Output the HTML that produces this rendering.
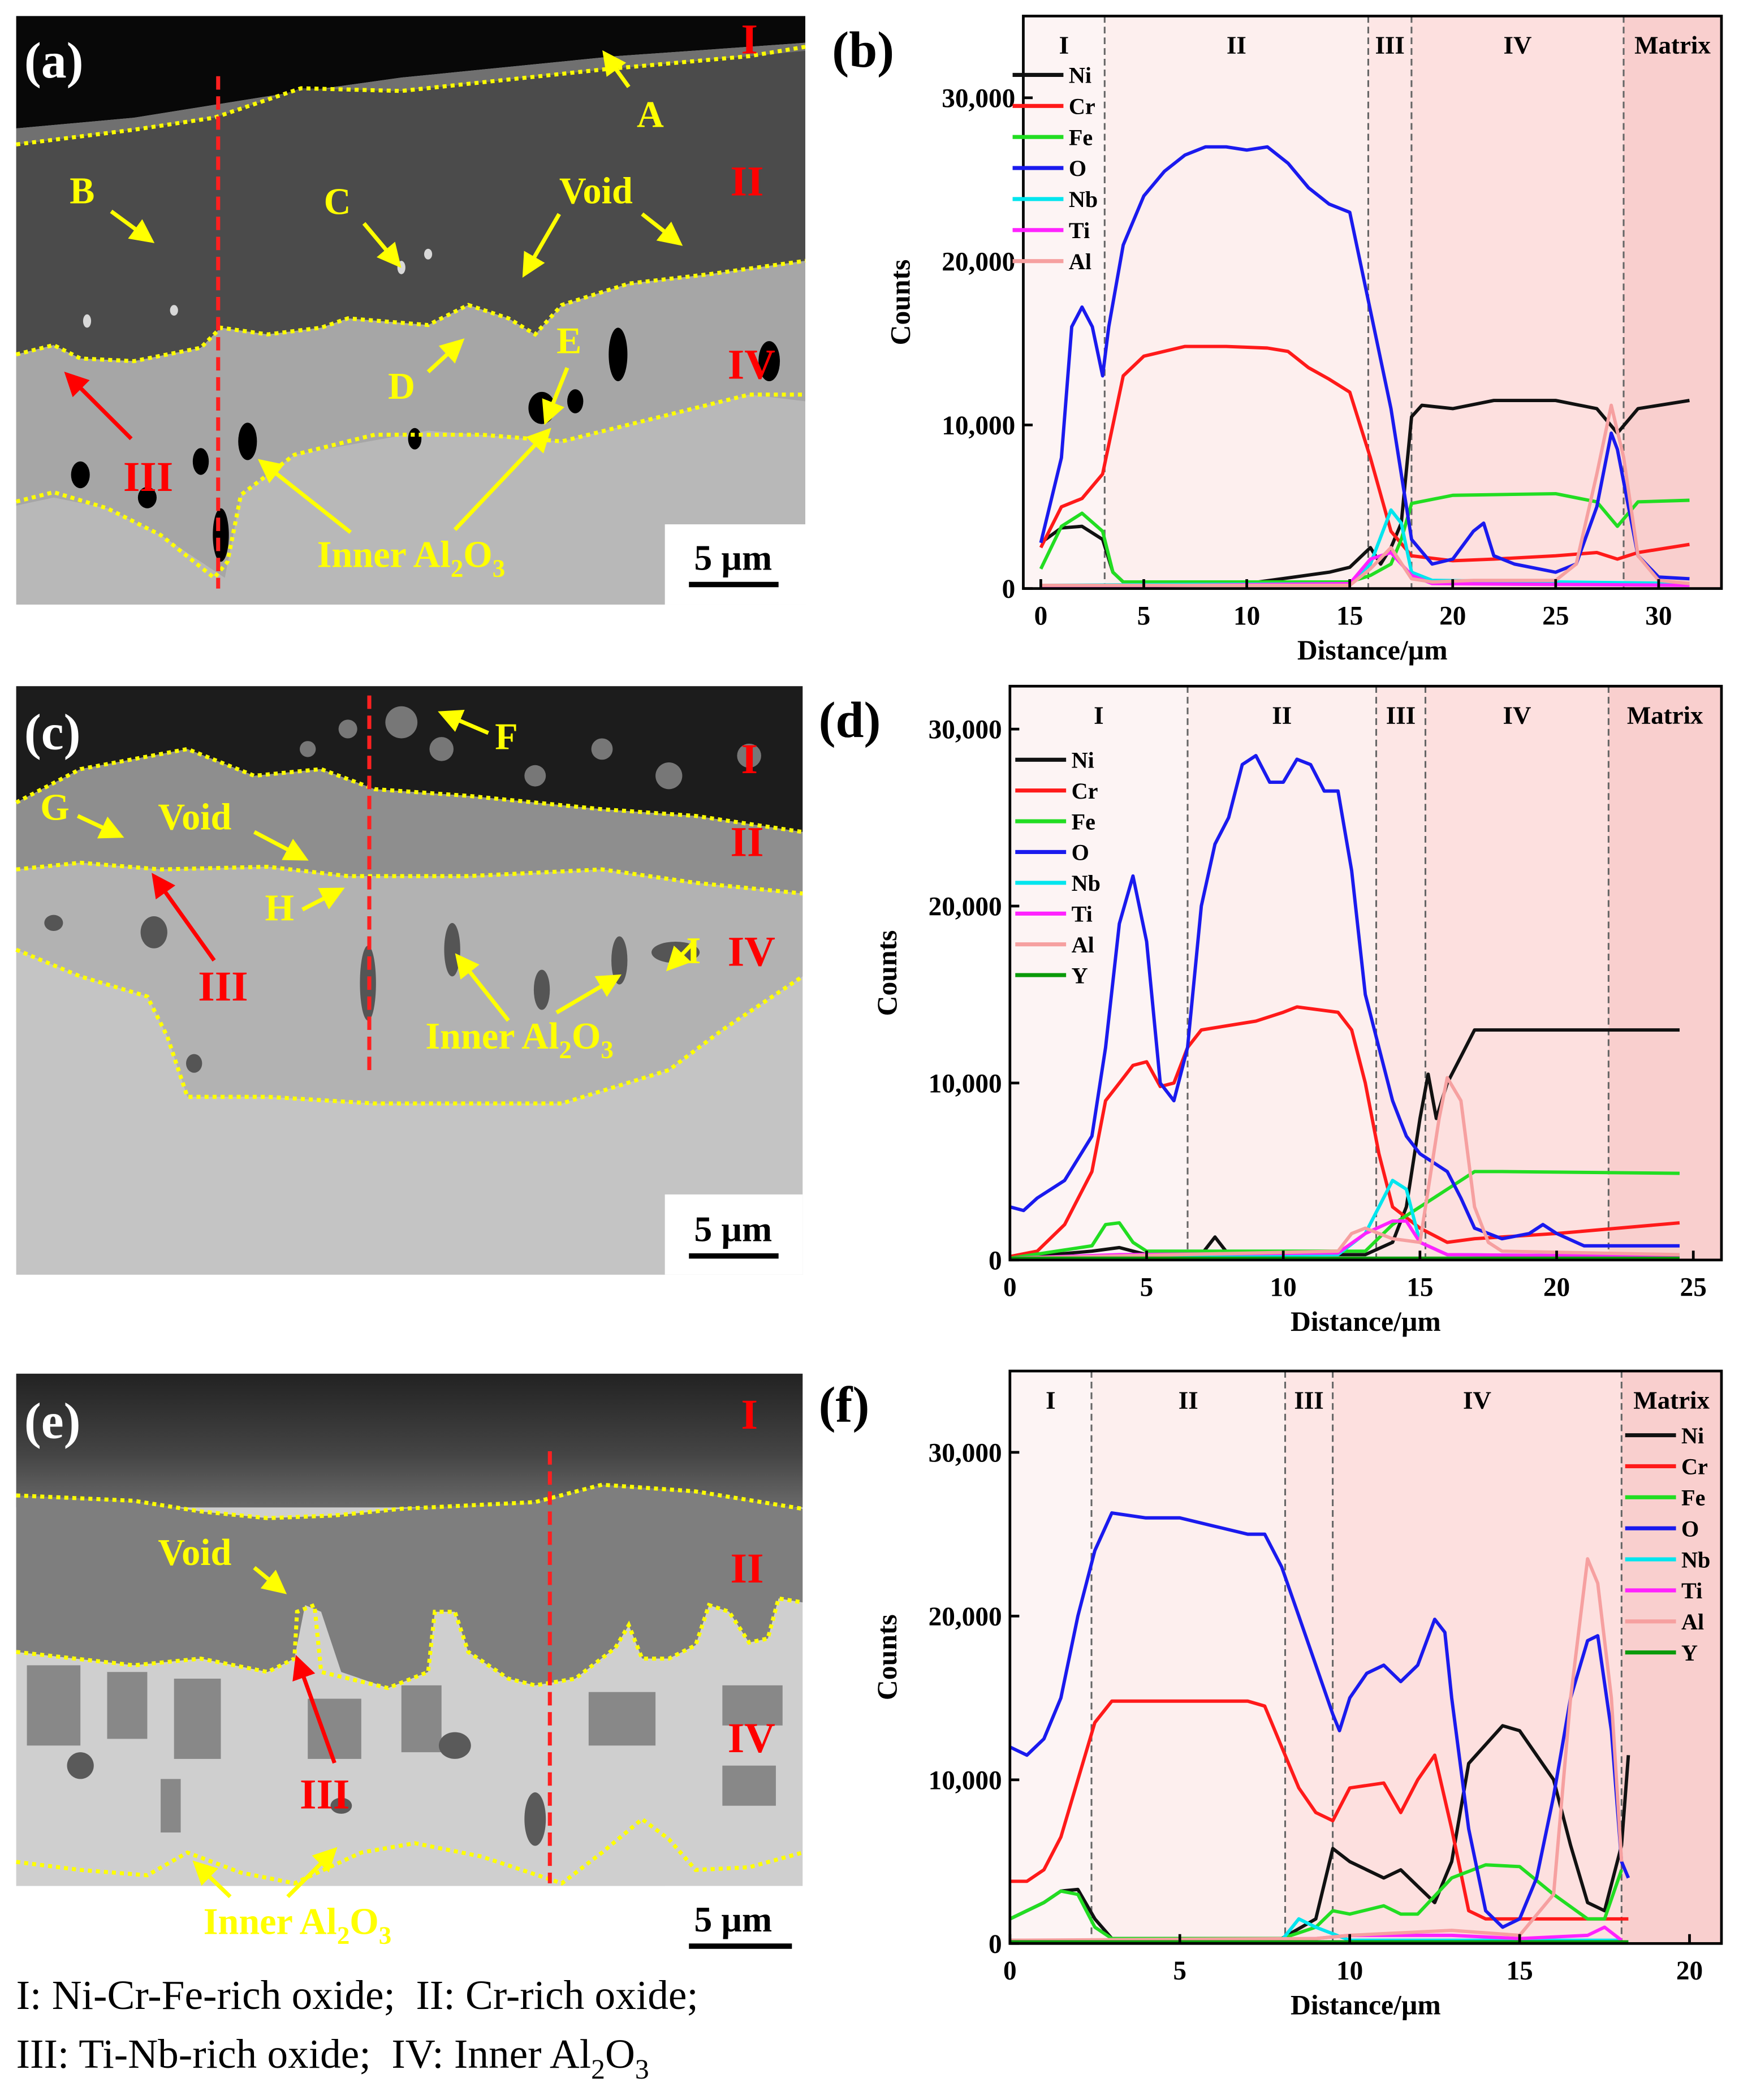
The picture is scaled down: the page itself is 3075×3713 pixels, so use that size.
<!DOCTYPE html>
<html><head><meta charset="utf-8"><style>
html,body{margin:0;padding:0;background:#fff}
svg{display:block}
text{font-family:"Liberation Serif",serif}
</style></head><body>
<svg id="fig" xmlns="http://www.w3.org/2000/svg" width="3075" height="3713" viewBox="0 0 1300 1570">
<defs>
<linearGradient id="gE" x1="0" y1="0" x2="0" y2="1"><stop offset="0" stop-color="#222"/><stop offset="0.6" stop-color="#444"/><stop offset="1" stop-color="#6a6a6a"/></linearGradient>
<marker id="ay" markerWidth="6" markerHeight="6" refX="5" refY="3" orient="auto" markerUnits="strokeWidth"><path d="M0,0 L6,3 L0,6 z" fill="#ffff00"/></marker>
<marker id="ar" markerWidth="6" markerHeight="6" refX="5" refY="3" orient="auto" markerUnits="strokeWidth"><path d="M0,0 L6,3 L0,6 z" fill="#ff0000"/></marker>
</defs>

<!-- Panel a SEM -->
<g>
<rect x="12" y="12" width="590" height="440" fill="#b8b8b8"/>
<polygon points="12,265 40,258 60,268 100,270 150,260 165,245 200,250 240,245 260,238 320,243 350,228 380,238 400,250 420,228 470,212 530,205 602,195 602,300 560,295 500,310 420,330 320,322 220,340 180,370 168,432 120,400 80,380 40,372 12,378" fill="#a6a6a6"/>
<polygon points="12,12 602,12 602,32 460,42 300,58 200,72 100,88 12,96" fill="#080808"/>
<polygon points="12,96 100,88 200,72 300,58 460,42 602,32 602,40 560,42 450,52 300,68 225,66 160,88 100,97 12,108" fill="#707070"/>
<polygon points="12,108 100,97 160,88 225,66 300,68 450,52 560,42 602,38 602,195 530,205 470,212 420,228 400,250 380,238 350,228 320,243 260,238 240,245 200,250 165,245 150,260 100,270 60,268 40,258 12,265" fill="#4b4b4b"/>
<g fill="#000">
<ellipse cx="462" cy="265" rx="7" ry="20"/><ellipse cx="405" cy="305" rx="10" ry="12"/><ellipse cx="185" cy="330" rx="7" ry="14"/><ellipse cx="165" cy="400" rx="6" ry="20"/><ellipse cx="60" cy="355" rx="7" ry="10"/><ellipse cx="110" cy="372" rx="7" ry="8"/><ellipse cx="575" cy="270" rx="8" ry="15"/><ellipse cx="430" cy="300" rx="6" ry="9"/><ellipse cx="310" cy="328" rx="5" ry="8"/><ellipse cx="150" cy="345" rx="6" ry="10"/>
</g>
<g fill="#d8d8d8"><ellipse cx="300" cy="200" rx="3" ry="5"/><ellipse cx="320" cy="190" rx="3" ry="4"/><ellipse cx="65" cy="240" rx="3" ry="5"/><ellipse cx="130" cy="232" rx="3" ry="4"/></g>
<g fill="none" stroke="#ffff00" stroke-width="3" stroke-dasharray="3,3">
<polyline points="12,108 100,97 160,88 225,66 300,68 450,52 560,42 602,35"/>
<polyline points="12,265 40,258 60,268 100,270 150,260 165,245 200,250 240,245 260,238 320,243 350,228 380,238 400,250 420,228 470,212 530,205 602,195"/>
<polyline points="12,375 40,368 80,380 120,400 160,432 170,420 180,370 220,340 280,325 360,325 420,330 500,310 560,295 602,295"/>
</g>
<line x1="163" y1="57" x2="163" y2="440" stroke="#ff2020" stroke-width="3" stroke-dasharray="10,5"/>
<rect x="497" y="392" width="105" height="60" fill="#fff"/>
<text x="548" y="426" font-size="27" font-weight="bold" text-anchor="middle">5 µm</text>
<line x1="515" y1="437" x2="582" y2="437" stroke="#000" stroke-width="4"/>
<text x="18" y="58" font-size="38" font-weight="bold" fill="#fff">(a)</text>
<g font-size="28" font-weight="bold" fill="#ffff00">
<text x="476" y="95">A</text><text x="52" y="152">B</text><text x="242" y="160">C</text><text x="418" y="152">Void</text><text x="290" y="298">D</text><text x="416" y="264">E</text>
<text x="237" y="424">Inner Al<tspan font-size="19" dy="7">2</tspan><tspan dy="-7">O</tspan><tspan font-size="19" dy="7">3</tspan></text>
</g>
<g font-size="32" font-weight="bold" fill="#ff0000"><text x="554" y="40">I</text><text x="546" y="146">II</text><text x="544" y="283">IV</text><text x="92" y="367">III</text></g>
<g stroke="#ffff00" stroke-width="3" fill="none" marker-end="url(#ay)">
<line x1="470" y1="65" x2="452" y2="40"/><line x1="83" y1="158" x2="113" y2="180"/><line x1="272" y1="167" x2="298" y2="198"/><line x1="418" y1="160" x2="392" y2="205"/><line x1="480" y1="160" x2="508" y2="182"/><line x1="320" y1="278" x2="345" y2="255"/><line x1="424" y1="275" x2="408" y2="315"/><line x1="262" y1="398" x2="195" y2="345"/><line x1="340" y1="396" x2="410" y2="322"/>
</g>
<line x1="98" y1="328" x2="50" y2="280" stroke="#ff0000" stroke-width="3" marker-end="url(#ar)"/>
</g>

<!-- Panel c SEM -->
<g>
<rect x="12" y="513" width="588" height="440" fill="#c4c4c4"/>
<polygon points="12,513 600,513 600,622 520,610 450,605 350,595 280,590 240,575 190,580 140,560 60,575 12,600" fill="#1c1c1c"/>
<g fill="#777"><circle cx="300" cy="540" r="12"/><circle cx="330" cy="560" r="9"/><circle cx="450" cy="560" r="8"/><circle cx="500" cy="580" r="10"/><circle cx="560" cy="565" r="9"/><circle cx="400" cy="580" r="8"/><circle cx="260" cy="545" r="7"/><circle cx="230" cy="560" r="6"/></g>
<polygon points="12,600 60,575 140,560 190,580 240,575 280,590 350,595 450,605 520,610 600,622 600,668 520,660 450,650 350,655 260,655 200,648 120,650 60,645 12,650" fill="#8e8e8e"/>
<polygon points="12,650 60,645 120,650 200,648 260,655 350,655 450,650 520,660 600,668 600,730 570,750 540,770 500,800 420,825 280,825 200,820 140,820 125,775 110,745 60,730 12,710" fill="#b2b2b2"/>
<g fill="#555"><ellipse cx="275" cy="735" rx="6" ry="28"/><ellipse cx="338" cy="710" rx="6" ry="20"/><ellipse cx="505" cy="712" rx="18" ry="8"/><ellipse cx="463" cy="718" rx="6" ry="18"/><ellipse cx="115" cy="697" rx="10" ry="12"/><ellipse cx="405" cy="740" rx="6" ry="15"/><ellipse cx="40" cy="690" rx="7" ry="6"/><ellipse cx="145" cy="795" rx="6" ry="7"/></g>
<g fill="none" stroke="#ffff00" stroke-width="3" stroke-dasharray="3,3">
<polyline points="12,600 60,575 140,560 190,580 240,575 280,590 350,595 450,605 520,610 600,622"/>
<polyline points="12,650 60,645 120,650 200,648 260,655 350,655 450,650 520,660 600,668"/>
<polyline points="12,710 60,730 110,745 125,775 140,820 200,820 280,825 420,825 500,800 540,770 570,750 600,730"/>
</g>
<line x1="276" y1="520" x2="276" y2="800" stroke="#ff2020" stroke-width="3" stroke-dasharray="10,5"/>
<rect x="497" y="893" width="103" height="60" fill="#fff"/>
<text x="548" y="928" font-size="27" font-weight="bold" text-anchor="middle">5 µm</text>
<line x1="515" y1="939" x2="582" y2="939" stroke="#000" stroke-width="4"/>
<text x="18" y="560" font-size="38" font-weight="bold" fill="#fff">(c)</text>
<g font-size="28" font-weight="bold" fill="#ffff00">
<text x="370" y="560">F</text><text x="30" y="613">G</text><text x="118" y="620">Void</text><text x="198" y="688">H</text><text x="513" y="720">I</text>
<text x="318" y="784">Inner Al<tspan font-size="19" dy="7">2</tspan><tspan dy="-7">O</tspan><tspan font-size="19" dy="7">3</tspan></text>
</g>
<g font-size="32" font-weight="bold" fill="#ff0000"><text x="554" y="578">I</text><text x="546" y="640">II</text><text x="544" y="722">IV</text><text x="148" y="748">III</text></g>
<g stroke="#ffff00" stroke-width="3" fill="none" marker-end="url(#ay)">
<line x1="365" y1="548" x2="330" y2="533"/><line x1="58" y1="610" x2="90" y2="625"/><line x1="190" y1="622" x2="228" y2="642"/><line x1="226" y1="680" x2="255" y2="665"/><line x1="518" y1="705" x2="500" y2="724"/><line x1="380" y1="763" x2="342" y2="715"/><line x1="416" y1="757" x2="462" y2="730"/>
</g>
<line x1="160" y1="718" x2="115" y2="655" stroke="#ff0000" stroke-width="3" marker-end="url(#ar)"/>
</g>

<!-- Panel e SEM -->
<g>
<rect x="12" y="1027" width="588" height="383" fill="#cfcfcf"/>
<rect x="12" y="1027" width="588" height="100" fill="url(#gE)"/>
<polygon points="12,1118 100,1122 150,1130 200,1135 250,1133 300,1128 360,1125 400,1123 450,1110 520,1115 600,1128 600,1198 582,1195 574,1225 560,1228 545,1205 530,1200 520,1230 500,1240 480,1240 470,1215 460,1232 430,1255 400,1260 380,1255 350,1235 340,1205 325,1205 320,1250 290,1262 255,1250 240,1205 228,1200 220,1240 200,1250 150,1240 100,1245 12,1235" fill="#7e7e7e"/>
<g fill="#888"><rect x="20" y="1245" width="40" height="60"/><rect x="80" y="1250" width="30" height="50"/><rect x="130" y="1255" width="35" height="60"/><rect x="230" y="1270" width="40" height="45"/><rect x="300" y="1260" width="30" height="50"/><rect x="440" y="1265" width="50" height="40"/><rect x="540" y="1260" width="45" height="30"/><rect x="120" y="1330" width="15" height="40"/><rect x="540" y="1320" width="40" height="30"/></g>
<g fill="#5a5a5a"><ellipse cx="400" cy="1360" rx="8" ry="20"/><ellipse cx="340" cy="1305" rx="12" ry="10"/><ellipse cx="255" cy="1350" rx="8" ry="6"/><ellipse cx="60" cy="1320" rx="10" ry="10"/></g>
<g fill="none" stroke="#ffff00" stroke-width="3" stroke-dasharray="3,3">
<polyline points="12,1118 100,1122 150,1130 200,1135 250,1133 300,1128 360,1125 400,1123 450,1110 520,1115 600,1128"/>
<polyline points="12,1235 100,1245 150,1240 200,1250 220,1240 222,1205 235,1200 240,1250 290,1262 320,1250 325,1205 340,1205 350,1235 380,1255 400,1260 430,1255 460,1232 470,1215 480,1240 500,1240 520,1230 530,1200 545,1205 560,1228 574,1225 582,1195 600,1198"/>
<polyline points="12,1392 60,1398 110,1402 140,1385 180,1400 220,1408 270,1385 310,1378 360,1388 420,1408 450,1385 480,1360 500,1375 520,1398 560,1396 600,1385"/>
</g>
<line x1="411" y1="1085" x2="411" y2="1408" stroke="#ff2020" stroke-width="3" stroke-dasharray="10,5"/>
<rect x="497" y="1410" width="103" height="55" fill="#fff"/>
<text x="548" y="1444" font-size="27" font-weight="bold" text-anchor="middle">5 µm</text>
<line x1="515" y1="1455" x2="592" y2="1455" stroke="#000" stroke-width="4"/>
<text x="18" y="1075" font-size="38" font-weight="bold" fill="#fff">(e)</text>
<g font-size="28" font-weight="bold" fill="#ffff00">
<text x="118" y="1170">Void</text>
<text x="152" y="1446">Inner Al<tspan font-size="19" dy="7">2</tspan><tspan dy="-7">O</tspan><tspan font-size="19" dy="7">3</tspan></text>
</g>
<g font-size="32" font-weight="bold" fill="#ff0000"><text x="554" y="1068">I</text><text x="546" y="1183">II</text><text x="544" y="1310">IV</text><text x="224" y="1352">III</text></g>
<g stroke="#ffff00" stroke-width="3" fill="none" marker-end="url(#ay)"><line x1="190" y1="1172" x2="212" y2="1190"/><line x1="172" y1="1418" x2="146" y2="1393"/><line x1="215" y1="1418" x2="250" y2="1383"/></g>
<line x1="250" y1="1318" x2="222" y2="1240" stroke="#ff0000" stroke-width="3" marker-end="url(#ar)"/>
</g>

<g font-size="31" fill="#000">
<text x="12" y="1502">I: Ni-Cr-Fe-rich oxide;&#160; II: Cr-rich oxide;</text>
<text x="12" y="1546">III: Ti-Nb-rich oxide;&#160; IV: Inner Al<tspan font-size="21" dy="8">2</tspan><tspan dy="-8">O</tspan><tspan font-size="21" dy="8">3</tspan></text>
</g>
<g id="charts"></g>
</svg>
<script>
// ---- Panel b data ----
const bRegions = ["I","II","III","IV","Matrix"];
const bBounds = [3.1, 15.9, 18.0, 28.3];
const bNiX=[0,1,2,3,3.5,4,10,14,15,16,16.5,17,17.5,18,18.5,20,22,25,27,28,29,31.5];
const bNiY=[2800,3700,3800,3000,1000,400,300,1000,1300,2500,1500,2500,4000,10500,11200,11000,11500,11500,11000,9500,11000,11500];
const bCrX=[0,1,2,3,3.5,4,5,7,9,11,12,13,14,15,16,17,18,20,22,25,27,28,29,31.5];
const bCrY=[2500,5000,5500,7000,10000,13000,14200,14800,14800,14700,14500,13500,12800,12000,8000,3500,2000,1700,1800,2000,2200,1800,2200,2700];
const bFeX=[0,1,2,3,3.5,4,15,16,17,17.5,18,20,25,27,28,29,31.5];
const bFeY=[1200,3800,4600,3500,1000,400,400,800,1500,3000,5200,5700,5800,5300,3800,5300,5400];
const bOX=[0,1,1.5,2,2.5,3,3.3,4,5,6,7,8,9,10,11,12,13,14,15,16,17,17.5,18,19,20,21,21.5,22,23,25,26,27,27.7,28,29,30,31.5];
const bOY=[2800,8000,16000,17200,16000,13000,16000,21000,24000,25500,26500,27000,27000,26800,27000,26000,24500,23500,23000,17000,11000,7000,3000,1500,1800,3500,4000,2000,1500,1000,1500,5000,9500,8500,2000,700,600];
const bNbX=[0,15,16,17,17.5,18,19,31.5];
const bNbY=[200,300,1500,4800,4000,1000,500,300];
const bTiX=[0,15,16,17,18,19,31.5];
const bTiY=[100,300,1800,2200,800,300,200];
const bAlX=[0,15,16,17,18,19,21,25,26,27,27.7,28.3,29,30,31.5];
const bAlY=[200,200,1200,2500,600,400,500,500,1500,7000,11200,8000,2000,500,300];
// ---- Panel d data ----
const dRegions = ["I","II","III","IV","Matrix"];
const dBounds = [6.5, 13.4, 15.2, 21.9];
const dNiX=[0,3,4,5,7,7.5,8,13,14,14.5,15,15.3,15.6,16,16.5,17,18,24.5];
const dNiY=[100,500,700,300,300,1300,300,300,1000,3000,8000,10500,8000,10000,11500,13000,13000,13000];
const dCrX=[0,1,2,3,3.5,4,4.5,5,5.5,6,6.5,7,9,10,10.5,12,12.5,13,13.5,14,15,16,17,20,24.5];
const dCrY=[200,500,2000,5000,9000,10000,11000,11200,9800,10000,12000,13000,13500,14000,14300,14000,13000,10000,6000,3000,1800,1000,1200,1500,2100];
const dFeX=[0,3,3.5,4,4.5,5,13,14,15,15.5,16,17,18,24.5];
const dFeY=[100,800,2000,2100,1000,500,500,2000,3000,3500,4000,5000,5000,4900];
const dOX=[0,0.5,1,2,3,3.5,4,4.5,5,5.5,6,6.5,7,7.5,8,8.5,9,9.5,10,10.5,11,11.5,12,12.5,13,14,14.5,15,16,16.5,17,18,19,19.5,20,21,24.5];
const dOY=[3000,2800,3500,4500,7000,12000,19000,21700,18000,10000,9000,12000,20000,23500,25000,28000,28500,27000,27000,28300,28000,26500,26500,22000,15000,9000,7000,6000,5000,3500,1800,1200,1500,2000,1500,800,800];
const dNbX=[0,12,13,14,14.5,15,16,24.5];
const dNbY=[100,300,1500,4500,4000,1000,300,200];
const dTiX=[0,4,12,13,14,14.5,15,16,24.5];
const dTiY=[100,300,400,1500,2200,2200,1000,300,200];
const dAlX=[0,12,12.5,13,14,15,15.7,16,16.5,17,17.5,18,24.5];
const dAlY=[100,500,1500,1800,1200,1000,8000,10300,9000,3000,1000,500,300];
const dYX=[0,24.5];
const dYY=[100,100];
// ---- Panel f data ----
const fRegions = ["I","II","III","IV","Matrix"];
const fBounds = [2.4, 8.1, 9.5, 18.0];
const fNiX=[0,1,1.5,2,2.5,3,8,9,9.5,10,11,11.5,12,12.5,13,13.5,14.5,15,16,16.5,17,17.5,18,18.2];
const fNiY=[1500,2500,3200,3300,1500,300,300,1500,5800,5000,4000,4500,3500,2500,5000,11000,13300,13000,10000,6000,2500,2000,6000,11500];
const fCrX=[0,0.5,1,1.5,2,2.5,3,4,5,7,7.5,8,8.5,9,9.5,10,11,11.5,12,12.5,13,13.5,14,16,18,18.2];
const fCrY=[3800,3800,4500,6500,10000,13500,14800,14800,14800,14800,14500,12000,9500,8000,7500,9500,9800,8000,10000,11500,7000,2000,1500,1500,1500,1500];
const fFeX=[0,1,1.5,2,2.5,3,8,9,9.5,10,11,11.5,12,13,14,15,16,17,17.5,18];
const fFeY=[1500,2500,3200,3000,1000,300,300,1000,2000,1800,2300,1800,1800,4000,4800,4700,3000,1500,1500,4500];
const fOX=[0,0.5,1,1.5,2,2.5,3,4,5,6,7,7.5,8,8.5,9,9.5,9.7,10,10.5,11,11.5,12,12.5,12.8,13,13.5,14,14.5,15,15.5,16,16.5,17,17.3,17.7,18,18.2];
const fOY=[12000,11500,12500,15000,20000,24000,26300,26000,26000,25500,25000,25000,23000,20000,17000,14000,13000,15000,16500,17000,16000,17000,19800,19000,15000,7000,2000,1000,1500,4000,9000,15000,18500,18800,13000,5000,4000];
const fNbX=[0,8,8.5,9,10,18];
const fNbY=[200,200,1500,1000,200,200];
const fTiX=[0,9,10,13,15,17,17.5,18];
const fTiY=[100,300,500,500,300,500,1000,200];
const fAlX=[0,9,10,12,13,15,16,16.5,17,17.3,17.7,18];
const fAlY=[200,300,500,700,800,500,3000,15000,23500,22000,15000,5000];
const fYX=[0,18.2];
const fYY=[100,100];
const yTicks=[0,10000,20000,30000];
const yTickLabels=["0","10,000","20,000","30,000"];
const bXTicks=[0,5,10,15,20,25,30];
const dXTicks=[0,5,10,15,20,25];
const fXTicks=[0,5,10,15,20];

const NS="http://www.w3.org/2000/svg";
const root=document.getElementById('charts');
function mk(tag,attrs,parent){const e=document.createElementNS(NS,tag);for(const k in attrs)e.setAttribute(k,attrs[k]);(parent||root).appendChild(e);return e;}
const regionFills=["#fdf4f4","#fdefee","#fde6e5","#fde0df","#f9cfce"];

function drawChart(c){
  const g=mk('g',{});
  
  
  const xs=v=>c.x0+(v-c.xmin)/(c.xmax-c.xmin)*(c.x1-c.x0);
  const ys=v=>c.y0-v/10000*c.ppt;
  const edges=[c.x0].concat(c.bounds.map(xs)).concat([c.x1]);
  for(let i=0;i<5;i++){
    const r=mk('rect',{x:edges[i],y:c.top,width:edges[i+1]-edges[i],height:c.y0-c.top,fill:regionFills[i]},g);
    
    
    const t=mk('text',{x:(edges[i]+edges[i+1])/2,y:c.top+28,'font-size':19,'font-weight':'bold','text-anchor':'middle'},g);
    t.textContent=c.regions[i];
    
    
  }
  c.bounds.forEach(b=>{const l=mk('line',{x1:xs(b),x2:xs(b),y1:c.top,y2:c.y0,stroke:'#666','stroke-width':1.3,'stroke-dasharray':'5,3'},g);
    
    });
  c.series.forEach(s=>{
    const d=s.x.map((v,i)=>(i?'L':'M')+xs(v).toFixed(1)+','+ys(s.y[i]).toFixed(1)).join(' ');
    const p=mk('path',{d:d,fill:'none',stroke:s.color,'stroke-width':2.5,'stroke-linejoin':'round'},g);
    
    
  });
  mk('rect',{x:c.x0,y:c.top,width:c.x1-c.x0,height:c.y0-c.top,fill:'none',stroke:'#000','stroke-width':2},g);
  yTicks.forEach((v,i)=>{
    mk('line',{x1:c.x0,x2:c.x0+7,y1:ys(v),y2:ys(v),stroke:'#000','stroke-width':2},g);
    const t=mk('text',{x:c.x0-6,y:ys(v)+7,'font-size':20,'font-weight':'bold','text-anchor':'end'},g);
    t.textContent=yTickLabels[i];
    
    
  });
  c.xticks.forEach(v=>{
    mk('line',{x1:xs(v),x2:xs(v),y1:c.y0,y2:c.y0-7,stroke:'#000','stroke-width':2},g);
    const t=mk('text',{x:xs(v),y:c.y0+27,'font-size':20,'font-weight':'bold','text-anchor':'middle'},g);
    t.textContent=String(v);
    
    
  });
  const xt=mk('text',{x:(c.x0+c.x1)/2,y:c.y0+53,'font-size':21,'font-weight':'bold','text-anchor':'middle'},g);
  xt.textContent='Distance/µm';
  
  
  const cy=(c.top+c.y0)/2;
  const yt=mk('text',{x:c.x0-85,y:cy,'font-size':21,'font-weight':'bold','text-anchor':'middle',transform:'rotate(-90 '+(c.x0-85)+' '+cy+')'},g);
  yt.textContent='Counts';
  
  
  const pl=mk('text',{x:c.x0-143,y:c.top+38,'font-size':38,'font-weight':'bold'},g);
  pl.textContent=c.label;
  
  
  c.series.forEach((s,i)=>{
    const ly=c.legY+i*c.legDy;
    const ll=mk('line',{x1:c.legX,x2:c.legX+38,y1:ly,y2:ly,stroke:s.color,'stroke-width':3},g);
    
    
    const lt=mk('text',{x:c.legX+42,y:ly+6,'font-size':17,'font-weight':'bold'},g);
    lt.textContent=s.n;
    
    
  });
}
const C={Ni:'#111',Cr:'#ff1a1a',Fe:'#22dd22',O:'#1a1aee',Nb:'#00e5ee',Ti:'#ff22ff',Al:'#f6a0a0',Y:'#0a9a0a'};
drawChart({name:'chart-b',label:'(b)',x0:765,x1:1287,xmin:-0.85,xmax:33.05,top:12,y0:440,ppt:122.3,regions:bRegions,bounds:bBounds,xticks:bXTicks,legX:757,legY:56,legDy:23.2,
 series:[{n:'Ni',x:bNiX,y:bNiY,color:C.Ni},{n:'Cr',x:bCrX,y:bCrY,color:C.Cr},{n:'Fe',x:bFeX,y:bFeY,color:C.Fe},{n:'O',x:bOX,y:bOY,color:C.O},{n:'Nb',x:bNbX,y:bNbY,color:C.Nb},{n:'Ti',x:bTiX,y:bTiY,color:C.Ti},{n:'Al',x:bAlX,y:bAlY,color:C.Al}]});
drawChart({name:'chart-d',label:'(d)',x0:755,x1:1287,xmin:0,xmax:26.03,top:513,y0:942,ppt:132.3,regions:dRegions,bounds:dBounds,xticks:dXTicks,legX:759,legY:568,legDy:23,
 series:[{n:'Ni',x:dNiX,y:dNiY,color:C.Ni},{n:'Cr',x:dCrX,y:dCrY,color:C.Cr},{n:'Fe',x:dFeX,y:dFeY,color:C.Fe},{n:'O',x:dOX,y:dOY,color:C.O},{n:'Nb',x:dNbX,y:dNbY,color:C.Nb},{n:'Ti',x:dTiX,y:dTiY,color:C.Ti},{n:'Al',x:dAlX,y:dAlY,color:C.Al},{n:'Y',x:dYX,y:dYY,color:C.Y}]});
drawChart({name:'chart-f',label:'(f)',x0:755,x1:1287,xmin:0,xmax:20.94,top:1025,y0:1453,ppt:122.4,regions:fRegions,bounds:fBounds,xticks:fXTicks,legX:1215,legY:1073,legDy:23.2,
 series:[{n:'Ni',x:fNiX,y:fNiY,color:C.Ni},{n:'Cr',x:fCrX,y:fCrY,color:C.Cr},{n:'Fe',x:fFeX,y:fFeY,color:C.Fe},{n:'O',x:fOX,y:fOY,color:C.O},{n:'Nb',x:fNbX,y:fNbY,color:C.Nb},{n:'Ti',x:fTiX,y:fTiY,color:C.Ti},{n:'Al',x:fAlX,y:fAlY,color:C.Al},{n:'Y',x:fYX,y:fYY,color:C.Y}]});
</script>
</body></html>
